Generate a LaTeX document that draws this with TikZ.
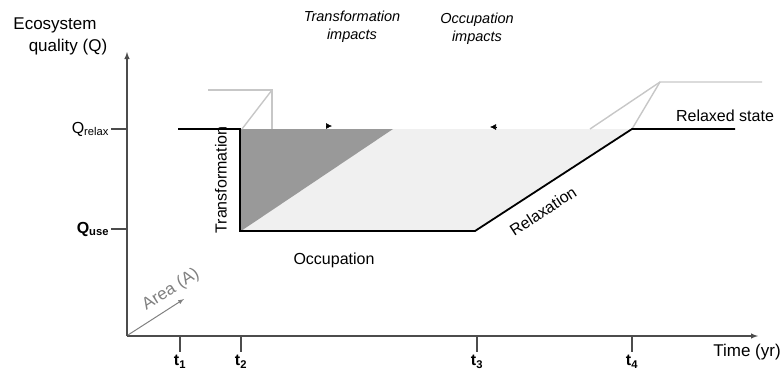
\documentclass[tikz,border=0pt]{standalone}
\usepackage{fontspec}
\setmainfont{Liberation Sans}
\usetikzlibrary{arrows.meta}

\begin{document}
\begin{tikzpicture}[x=1pt,y=-1pt,>=latex,
    every node/.style={font=\fontsize{16}{18}\selectfont},
    axis/.style={draw=black!70,line width=1.4pt},
    curve/.style={draw=black,line width=1.8pt},
    ghost/.style={draw=black!22,line width=1.4pt},
    note/.style={font=\fontsize{14.5}{18}\selectfont\itshape,align=center}]
    \useasboundingbox (0,0) rectangle (784,376);
    % \draw [gray] (0,0) rectangle (784,376);
    \fill [black!6] (241,129) -- (632,129) -- (475,231) -- (241,231) -- cycle;
    \fill [black!40] (241,129) -- (393,129) -- (241,231) -- cycle;

    \draw [ghost] (208,90) -- (272,90) -- (272,129);
    \draw [ghost] (272,90) -- (242,129);
    \draw [ghost] (762,82) -- (660,82) -- (632,129);
    \draw [ghost] (660,82) -- (590,129);

    \draw [axis,->] (127,336) -- (127,52);
    \draw [axis,->] (127,336) -- (758,336);
    \foreach \x/\t in {180/1,241/2,477/3,632/4}
        \draw [axis,line width=2pt] (\x,337) -- (\x,352)
              node (t\t) [below,inner sep=2pt] {\textbf{t\textsubscript{\t}}};
    \draw [axis,line width=2pt] (127,129) -- (111,129)
          node (qrelax) [left,inner sep=1pt] {Q\textsubscript{relax}};
    \draw [axis,line width=2pt] (127,229) -- (111,229)
          node (quse) [left,inner sep=1pt] {\textbf{Q\textsubscript{use}}};

    \draw [curve] (178,129) -- (240,129) -- (240,231) -- (475,231)
                  -- (632,129) -- (735,129);

    \draw [->,black!50,line width=1pt] (128,335) -- (184,299);
    \node (area) [black!50,rotate=32,font=\fontsize{17}{19}\selectfont] at (171,290) {Area (A)};

    \node (eco) [font=\fontsize{17}{19}\selectfont] at (55,25) {Ecosystem};
    \node (qual) [font=\fontsize{17}{19}\selectfont] at (68,47) {quality (Q)};
    \node (time) [font=\fontsize{17}{19}\selectfont] at (747,352) {Time (yr)};

    \node (trans) [rotate=90] at (221,180) {Transformation};
    \node (occ) at (334,260) {Occupation};
    \node (relax) [rotate=33] at (543,211) {Relaxation};
    \node (state) at (725,116) {Relaxed state};

    \node (timp) [note] at (352,27) {Transformation\\impacts};
    \node (oimp) [note] at (477,29) {Occupation\\impacts};
    \draw [-{Latex[length=6pt,width=6pt]},line width=.6pt] (326,126) -- (332,126);
    \draw [-{Latex[length=6pt,width=6pt]},line width=.6pt] (497,127) -- (490,127);
\end{tikzpicture}
\end{document}
